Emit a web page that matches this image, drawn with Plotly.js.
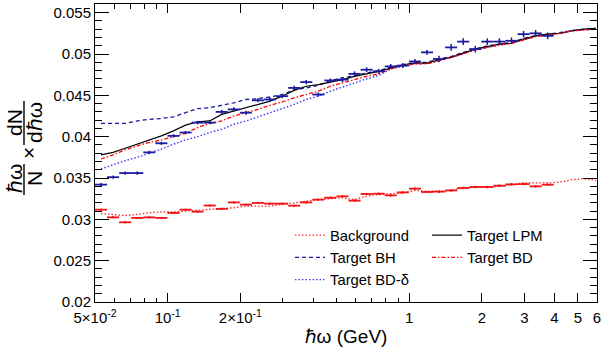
<!DOCTYPE html>
<html><head><meta charset="utf-8">
<script src="https://cdn.plot.ly/plotly-3.0.1.min.js"></script>
<style>html,body{margin:0;padding:0;background:#fff}</style>
</head><body><div id="chart" style="width:602px;height:354px"></div>
<script>
// Bin centres (GeV), 20 log bins per decade starting at 0.05 GeV
const energy = [0.05296,0.05942,0.06668,0.07481,0.08394,0.09418,0.1057,0.1186,0.1330,0.1493,
  0.1675,0.1879,0.2108,0.2366,0.2654,0.2978,0.3342,0.3749,0.4207,0.4720,
  0.5296,0.5942,0.6668,0.7481,0.8394,0.9418,1.057,1.186,1.330,1.493,
  1.675,1.879,2.108,2.366,2.654,2.978,3.342,3.749,4.207,4.720,5.296,5.942];

// Target data (blue crosses)
const targetData = [0.0342,0.0351,0.0356,0.0356,0.0381,0.0392,0.0401,0.0405,0.0417,0.0417,
  0.0430,0.0433,0.0429,0.0444,0.0445,0.0449,0.0459,0.0466,0.0451,0.0468,
  0.0469,0.0476,0.0481,0.0479,0.0485,0.0486,0.0491,0.0502,0.0494,0.0508,
  0.0515,0.0506,0.0515,0.0515,0.0516,0.0524,0.0525,0.0522];
const targetErr = [0.0002,0.0002,0.0002,0.0002,0.0002,0.0002,0.0002,0.0002,0.0002,0.0002,
  0.00025,0.00025,0.00025,0.00025,0.00025,0.00025,0.00025,0.00025,0.00025,0.00025,
  0.0003,0.0003,0.0003,0.0003,0.0003,0.0003,0.0003,0.0003,0.0004,0.0004,
  0.0004,0.0004,0.0004,0.0004,0.0004,0.0004,0.0004,0.0004];

// Background data (red crosses)
const backgroundData = [0.03117,0.03024,0.02964,0.03017,0.03024,0.03017,0.03077,0.03117,0.03093,0.03167,
  0.03127,0.03205,0.03178,0.03198,0.0319,0.0319,0.03165,0.03205,0.03238,0.03262,
  0.03278,0.03226,0.03307,0.0331,0.0329,0.03326,0.03371,0.03331,0.03335,0.0335,
  0.03379,0.03391,0.03391,0.03407,0.03423,0.03427,0.03399,0.03419];
const backgroundErr = [0.00012,0.00012,0.00012,0.00012,0.00012,0.00012,0.00012,0.00012,0.00012,0.00012,
  0.00012,0.00012,0.00012,0.00012,0.00012,0.00012,0.00012,0.00012,0.00012,0.00012,
  0.00013,0.00013,0.00013,0.00013,0.00013,0.00013,0.00013,0.00013,0.00013,0.00013,
  0.00015,0.00015,0.00015,0.00015,0.00015,0.00015,0.00015,0.00015];

// Simulation curves
const curveBackground = [0.0307,0.0306,0.03045,0.0306,0.0308,0.0309,0.0309,0.0310,0.0311,0.0312,
  0.0313,0.0314,0.0316,0.0316,0.0316,0.0318,0.0320,0.0322,0.0324,0.0325,
  0.0326,0.0324,0.0328,0.0330,0.0331,0.0332,0.0335,0.0334,0.0334,0.0335,
  0.0338,0.0339,0.0339,0.0340,0.0342,0.0344,0.0344,0.0344,0.0345,0.0348,0.0349,0.0347];
const curveLPM = [0.0378,0.0381,0.0386,0.0391,0.0396,0.0401,0.0407,0.0414,0.0418,0.0419,
  0.0427,0.0431,0.0435,0.0439,0.0443,0.0449,0.0456,0.0461,0.0463,0.0466,
  0.0469,0.0473,0.0476,0.0479,0.0483,0.0487,0.0489,0.0489,0.0493,0.0496,
  0.0501,0.0506,0.0509,0.0512,0.0513,0.0518,0.0522,0.0524,0.0525,0.0528,0.0530,0.0531];
const curveBH = [0.0416,0.0416,0.0416,0.0419,0.0421,0.0422,0.0424,0.0429,0.0434,0.0435,
  0.0438,0.0441,0.0445,0.0446,0.0448,0.0451,0.0457,0.0459,0.0462,0.0468,
  0.0471,0.0474,0.0477,0.0480,0.0484,0.0487,0.0490,0.0490,0.0494,0.0497,
  0.0502,0.0506,0.0510,0.0512,0.0514,0.0519,0.0522,0.0524,0.0526,0.0528,0.0530,0.0531];
const curveBD = [0.0373,0.0378,0.0384,0.0389,0.0393,0.0396,0.0400,0.0404,0.0411,0.0416,
  0.0419,0.0425,0.0429,0.0433,0.0438,0.0442,0.0447,0.0451,0.0455,0.0461,
  0.0465,0.0469,0.0473,0.0476,0.0482,0.0486,0.0488,0.0488,0.0492,0.0496,
  0.0500,0.0505,0.0508,0.0511,0.0513,0.0517,0.0521,0.0523,0.0525,0.0528,0.0529,0.0530];
const curveBDdelta = [0.0361,0.0366,0.0371,0.0375,0.0380,0.0385,0.0391,0.0396,0.0400,0.0405,
  0.0409,0.0415,0.0419,0.0424,0.0429,0.0434,0.0439,0.0445,0.0449,0.0455,
  0.0460,0.0465,0.0470,0.0474,0.0482,0.0485,0.0488,0.0489,0.0492,0.0496,
  0.0501,0.0505,0.0508,0.0511,0.0513,0.0517,0.0522,0.0524,0.0525,0.0529,0.0529,0.0531];

// Axis ticks
const xMajorVals = [0.05,0.1,0.2,1,2,3,4,5,6];
const xMajorText = ['5×10<sup>-2</sup>','10<sup>-1</sup>','2×10<sup>-1</sup>','1','2','3','4','5','6'];
const xMinorVals = [0.06,0.07,0.08,0.09,0.3,0.4,0.5,0.6,0.7,0.8,0.9];
const yTickVals = [0.02,0.025,0.03,0.035,0.04,0.045,0.05,0.055];
const yTickText = ['0.02','0.025','0.03','0.035','0.04','0.045','0.05','0.055'];

const W = 602, H = 354, ML = 95, MR = 5, MT = 4, MB = 52;
const PW = W - ML - MR, PH = H - MT - MB;
const pxX = p => (p - ML) / PW;
const pxY = p => (H - MB - p) / PH;

const FONT = 'Liberation Sans, Arial, Helvetica, sans-serif';
const half = Math.pow(10, 0.025);
function dataTrace(y, err, color) {
  const x = energy.slice(0, y.length);
  return {
    type: 'scatter', mode: 'markers', x: x, y: y, showlegend: false,
    marker: {size: 2, color: color},
    error_x: {type: 'data', symmetric: false,
      array: x.map(v => v * half - v), arrayminus: x.map(v => v - v / half),
      color: color, thickness: 1.8, width: 0},
    error_y: {type: 'data', array: err, color: color, thickness: 1.5, width: 0}
  };
}
function curve(y, name, color, dash, width, legend) {
  return {type: 'scatter', mode: 'lines', x: energy, y: y, name: name, legend: legend,
    line: {color: color, dash: dash, width: width}};
}

const traces = [
  curve(curveBackground, 'Background', '#ff2020', '1.5px,2px', 1.3, 'legend'),
  curve(curveBH, 'Target BH', '#1a1a9a', '4px,3px', 1.3, 'legend'),
  curve(curveBDdelta, 'Target BD-δ', '#3a3aff', '1.5px,2px', 1.4, 'legend'),
  curve(curveLPM, 'Target LPM', '#000000', 'solid', 1.2, 'legend2'),
  curve(curveBD, 'Target BD', '#ff0000', '4px,2px,1.5px,2px', 1.3, 'legend2'),
  dataTrace(targetData, targetErr, '#1c1ca0'),
  dataTrace(backgroundData, backgroundErr, '#f01414')
];

const lx = Math.log10;
const xr = [lx(0.05), lx(6)];

const ytitleFont = {family: FONT, size: 21, color: '#000'};
const annotations = [
  {text: 'ℏω', x: pxX(14), y: pxY(179)},
  {text: 'N', x: pxX(34), y: pxY(179)},
  {text: '×', x: pxX(28), y: pxY(153)},
  {text: 'dN', x: pxX(14), y: pxY(123)},
  {text: 'dℏω', x: pxX(34), y: pxY(123)}
].map(a => Object.assign({xref: 'paper', yref: 'paper', showarrow: false, textangle: -90,
  xanchor: 'center', yanchor: 'middle', font: ytitleFont}, a));

const shapes = [
  {type: 'line', xref: 'paper', yref: 'paper', x0: pxX(24), x1: pxX(24), y0: pxY(164), y1: pxY(195), line: {color: '#000', width: 1.4}},
  {type: 'line', xref: 'paper', yref: 'paper', x0: pxX(24), x1: pxX(24), y0: pxY(101), y1: pxY(145), line: {color: '#000', width: 1.4}}
];

const layout = {
  width: W, height: H,
  margin: {l: ML, r: MR, t: MT, b: MB},
  paper_bgcolor: '#fff', plot_bgcolor: '#fff',
  font: {family: FONT, size: 15, color: '#000'},
  xaxis: {
    type: 'log', range: xr, showgrid: false, zeroline: false,
    showline: true, linecolor: '#000', linewidth: 1, mirror: 'allticks',
    ticks: 'inside', ticklen: 9, tickwidth: 1, tickcolor: '#000',
    tickmode: 'array', tickvals: xMajorVals, ticktext: xMajorText,
    ticklabelstandoff: 2,
    tickfont: {family: FONT, size: 15, color: '#000'},
    minor: {tickmode: 'array', tickvals: xMinorVals, ticks: 'inside', ticklen: 4.5, tickwidth: 1, tickcolor: '#000', showgrid: false},
    title: {text: 'ℏω (GeV)', font: {family: FONT, size: 19, color: '#000'}, standoff: 4}
  },
  yaxis: {
    range: [0.02, 0.05605], showgrid: false, zeroline: false,
    showline: true, linecolor: '#000', linewidth: 1, mirror: 'allticks',
    ticks: 'inside', ticklen: 14, tickwidth: 1, tickcolor: '#000',
    tickmode: 'array', tickvals: yTickVals, ticktext: yTickText,
    tickfont: {family: FONT, size: 15, color: '#000'},
    minor: {dtick: 0.001, tick0: 0.02, ticks: 'inside', ticklen: 7, tickwidth: 1, tickcolor: '#000', showgrid: false}
  },
  legend: {x: pxX(290), y: pxY(219), xanchor: 'left', yanchor: 'top', bgcolor: 'rgba(0,0,0,0)',
    borderwidth: 0, tracegroupgap: 0, font: {family: FONT, size: 14.8, color: '#000'}},
  legend2: {x: pxX(427), y: pxY(219), xanchor: 'left', yanchor: 'top', bgcolor: 'rgba(0,0,0,0)',
    borderwidth: 0, tracegroupgap: 0, font: {family: FONT, size: 14.8, color: '#000'}},
  annotations: annotations,
  shapes: shapes
};

Plotly.newPlot('chart', traces, layout, {displayModeBar: false, staticPlot: true});
</script>
</body></html>
